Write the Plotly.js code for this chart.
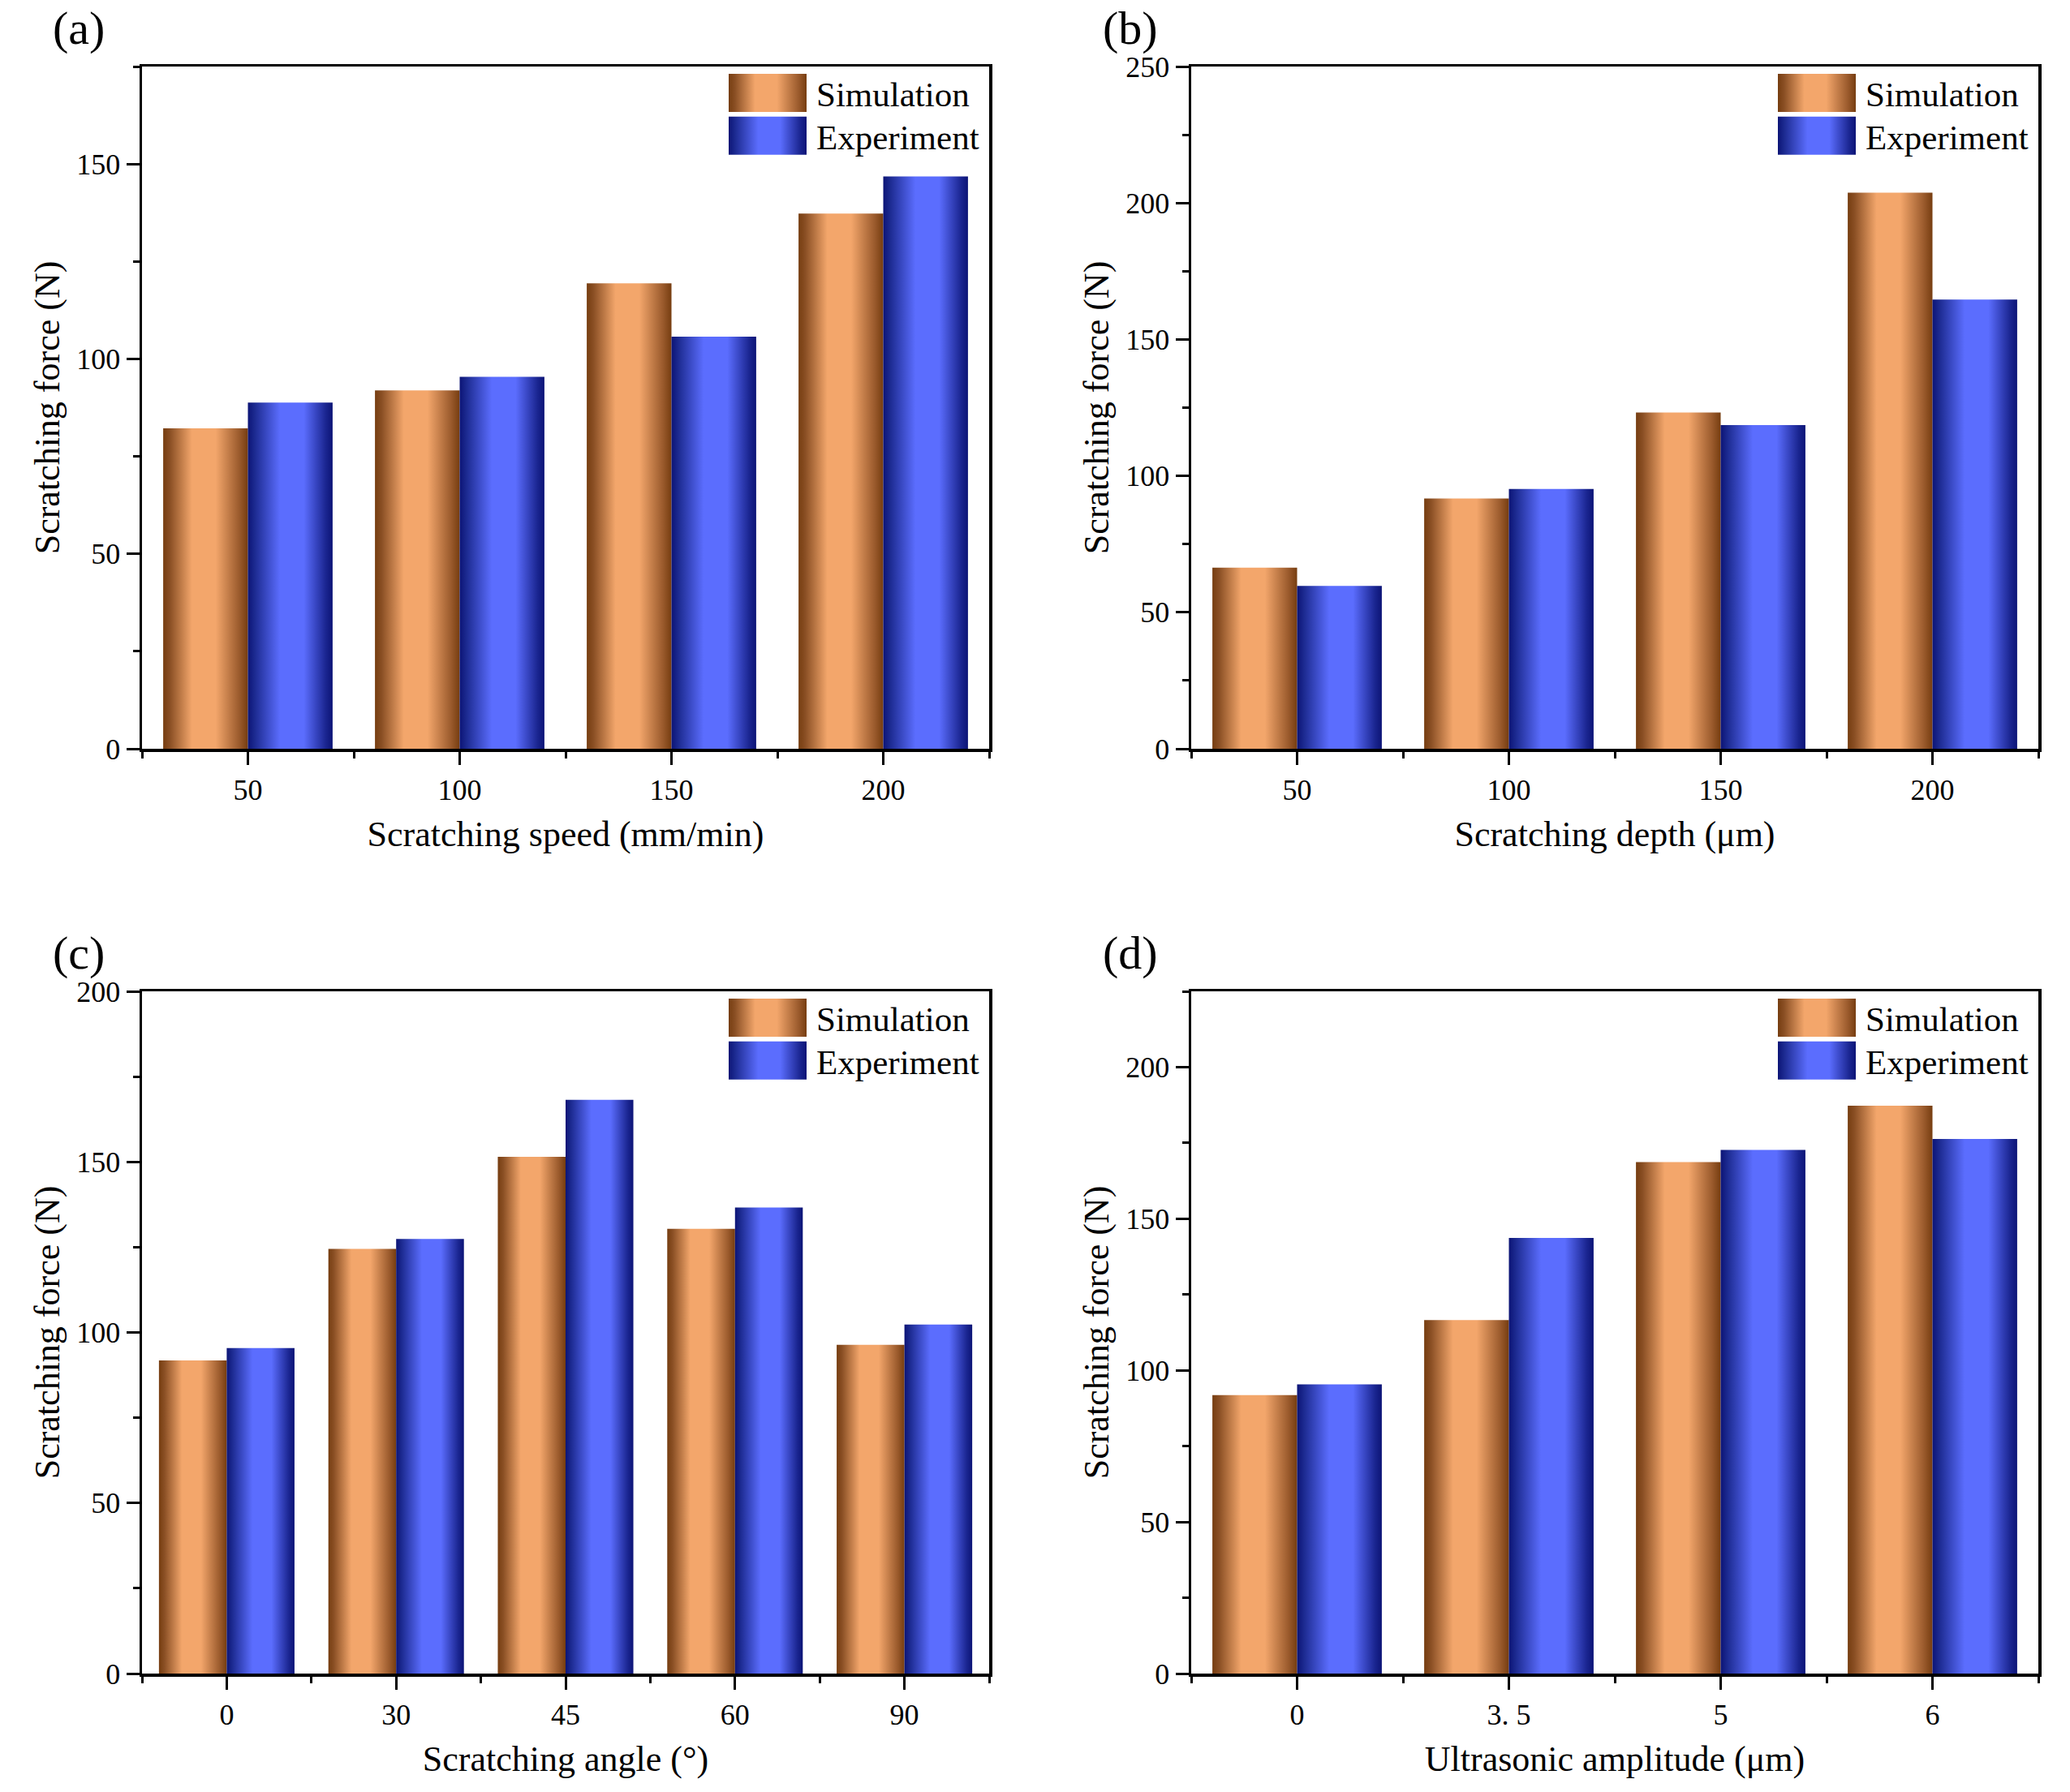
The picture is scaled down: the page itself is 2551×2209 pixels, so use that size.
<!DOCTYPE html>
<html><head><meta charset="utf-8">
<script src="https://cdn.plot.ly/plotly-3.0.1.min.js"></script>
<style>html,body{margin:0;padding:0;background:#fff}#chart{width:2551px;height:2209px}</style>
</head><body><div id="chart"></div>
<script>
const seriesNames = ['Simulation', 'Experiment'];
const speedCats = ['50', '100', '150', '200'];
const speedSim = [82.2, 91.9, 119.4, 137.3];
const speedExp = [88.8, 95.4, 105.7, 146.8];
const depthCats = ['50', '100', '150', '200'];
const depthSim = [66.4, 91.7, 123.2, 203.8];
const depthExp = [59.7, 95.2, 118.6, 164.6];
const angleCats = ['0', '30', '45', '60', '90'];
const angleSim = [91.8, 124.5, 151.5, 130.4, 96.4];
const angleExp = [95.4, 127.4, 168.2, 136.6, 102.3];
const ampCats = ['0', '3. 5', '5', '6'];
const ampSim = [91.8, 116.6, 168.7, 187.3];
const ampExp = [95.4, 143.7, 172.7, 176.3];
const xTitles = ['Scratching speed (mm/min)', 'Scratching depth (\u03bcm)', 'Scratching angle (\u00b0)', 'Ultrasonic amplitude (\u03bcm)'];
const yTitle = 'Scratching force (N)';
const yMax = [175, 250, 200, 225];
const panelLabels = ['(a)', '(b)', '(c)', '(d)'];

const panels = [
  {cats: speedCats, sim: speedSim, exp: speedExp},
  {cats: depthCats, sim: depthSim, exp: depthExp},
  {cats: angleCats, sim: angleSim, exp: angleExp},
  {cats: ampCats, sim: ampSim, exp: ampExp}
];

const W = 2551, H = 2209;
const FONT = 'Liberation Serif, Times New Roman, serif';
const colPx = [[175, 1219], [1468, 2512]];
const rowPx = [[82, 923], [1222, 2063]];
const px2x = v => v / W;
const px2y = v => 1 - v / H;

const traces = [];
const layout = {
  width: W, height: H,
  margin: {l: 0, r: 0, t: 0, b: 0},
  paper_bgcolor: '#fff', plot_bgcolor: 'rgba(0,0,0,0)',
  barmode: 'group', bargap: 0.2, bargroupgap: 0,
  showlegend: true,
  font: {family: FONT, color: '#000'},
  annotations: []
};

panels.forEach((p, i) => {
  const col = i % 2, row = Math.floor(i / 2);
  const xs = i === 0 ? '' : String(i + 1);
  const xa = 'x' + xs, ya = 'y' + xs;
  const lg = 'legend' + xs;
  const idx = p.cats.map((c, k) => k);
  const bounds = p.cats.map((c, k) => k - 0.5).concat([p.cats.length - 0.5]);
  traces.push({type: 'bar', x: idx, y: p.sim, name: seriesNames[0], xaxis: xa, yaxis: ya, legend: lg,
    marker: {color: '#f3a66b', line: {width: 0}}});
  traces.push({type: 'bar', x: idx, y: p.exp, name: seriesNames[1], xaxis: xa, yaxis: ya, legend: lg,
    marker: {color: '#5b6dfe', line: {width: 0}}});
  const xd = [px2x(colPx[col][0]), px2x(colPx[col][1])];
  const yd = [px2y(rowPx[row][1]), px2y(rowPx[row][0])];
  layout['xaxis' + xs] = {
    domain: xd, anchor: ya, range: [-0.5, p.cats.length - 0.5],
    tickmode: 'array', tickvals: idx, ticktext: p.cats,
    ticks: 'outside', ticklen: 16, tickwidth: 3, tickcolor: '#000',
    minor: {tickmode: 'array', tickvals: bounds, ticks: 'outside', ticklen: 8, tickwidth: 3, tickcolor: '#000', showgrid: false},
    showline: true, linewidth: 3.5, linecolor: '#000', mirror: true,
    showgrid: false, zeroline: false, fixedrange: true, automargin: false,
    tickfont: {family: FONT, size: 36, color: '#000'}, ticklabelstandoff: 0,
    title: {text: xTitles[i], font: {family: FONT, size: 44, color: '#000'}, standoff: 20}
  };
  layout['yaxis' + xs] = {
    domain: yd, anchor: xa, range: [0, yMax[i]],
    tickmode: 'linear', tick0: 0, dtick: 50,
    ticks: 'outside', ticklen: 16, tickwidth: 3, tickcolor: '#000',
    minor: {tickmode: 'linear', tick0: 0, dtick: 25, ticks: 'outside', ticklen: 8, tickwidth: 3, tickcolor: '#000', showgrid: false},
    showline: true, linewidth: 3.5, linecolor: '#000', mirror: true,
    showgrid: false, zeroline: false, fixedrange: true, automargin: false,
    tickfont: {family: FONT, size: 36, color: '#000'},
    title: {text: yTitle, font: {family: FONT, size: 44, color: '#000'}, standoff: 8}
  };
  layout[lg] = {
    x: xd[1] - 7 / W, xref: 'paper', xanchor: 'right',
    y: yd[1] + 2 / H, yref: 'paper', yanchor: 'top',
    bgcolor: 'rgba(0,0,0,0)', borderwidth: 0,
    font: {family: FONT, size: 43, color: '#000'},
    itemwidth: 100, traceorder: 'normal', tracegroupgap: 0
  };
  layout.annotations.push({
    text: panelLabels[i], xref: 'paper', yref: 'paper', showarrow: false,
    x: px2x(col === 0 ? 97 : 1393), y: px2y(row === 0 ? 35 : 1174),
    xanchor: 'center', yanchor: 'middle',
    font: {family: FONT, size: 58, color: '#000'}
  });
});

const gd = document.getElementById('chart');
Plotly.newPlot(gd, traces, layout, {staticPlot: true, displayModeBar: false}).then(applyGradients);

function applyGradients() {
  const NS = 'http://www.w3.org/2000/svg';
  const svg = gd.querySelector('svg.main-svg');
  let defs = svg.querySelector('defs');
  if (!defs) { defs = document.createElementNS(NS, 'defs'); svg.insertBefore(defs, svg.firstChild); }
  function grad(id, stops) {
    const g = document.createElementNS(NS, 'linearGradient');
    g.setAttribute('id', id);
    g.setAttribute('x1', '0'); g.setAttribute('x2', '1'); g.setAttribute('y1', '0'); g.setAttribute('y2', '0');
    stops.forEach(([o, c]) => {
      const s = document.createElementNS(NS, 'stop');
      s.setAttribute('offset', o); s.setAttribute('stop-color', c);
      g.appendChild(s);
    });
    defs.appendChild(g);
  }
  grad('gSim', [['0', '#763d10'], ['0.08', '#8a4f24'], ['0.34', '#f3a66b'], ['0.62', '#f3a66b'], ['0.9', '#9a5a2c'], ['1', '#763d10']]);
  grad('gExp', [['0', '#0c1476'], ['0.08', '#1c2a90'], ['0.38', '#5b6dfe'], ['0.66', '#5b6dfe'], ['0.92', '#1a2590'], ['1', '#0c1476']]);
  const fillFor = name => name === seriesNames[0] ? 'url(#gSim)' : 'url(#gExp)';
  const nameOf = el => {
    const d = el && el.__data__;
    return d && d[0] && d[0].trace ? d[0].trace.name : null;
  };
  gd.querySelectorAll('.barlayer .trace').forEach(g => {
    const name = nameOf(g);
    g.querySelectorAll('path').forEach(p => { p.style.fill = fillFor(name); });
  });
  const legendGroups = new Set();
  gd.querySelectorAll('.legendpoints').forEach(lp => {
    const item = lp.closest('.traces');
    const name = nameOf(item);
    lp.querySelectorAll('path').forEach(p => {
      p.setAttribute('d', 'M-53,-23.5H43V23.5H-53Z');
      p.style.fill = fillFor(name);
      p.style.stroke = 'none';
    });
    if (item && item.parentNode) legendGroups.add(item.parentNode);
  });
  legendGroups.forEach(parent => {
    const items = Array.from(parent.children).filter(c => c.classList && c.classList.contains('traces'));
    items.forEach((it, k) => {
      const m = /translate\(\s*([-\d.]+)[ ,]\s*([-\d.]+)\s*\)/.exec(it.getAttribute('transform') || '');
      if (!m) return;
      const x = parseFloat(m[1]), y = parseFloat(m[2]);
      it.setAttribute('transform', 'translate(' + x + ',' + (y - k * 6) + ')');
    });
  });
}
</script>
</body></html>
